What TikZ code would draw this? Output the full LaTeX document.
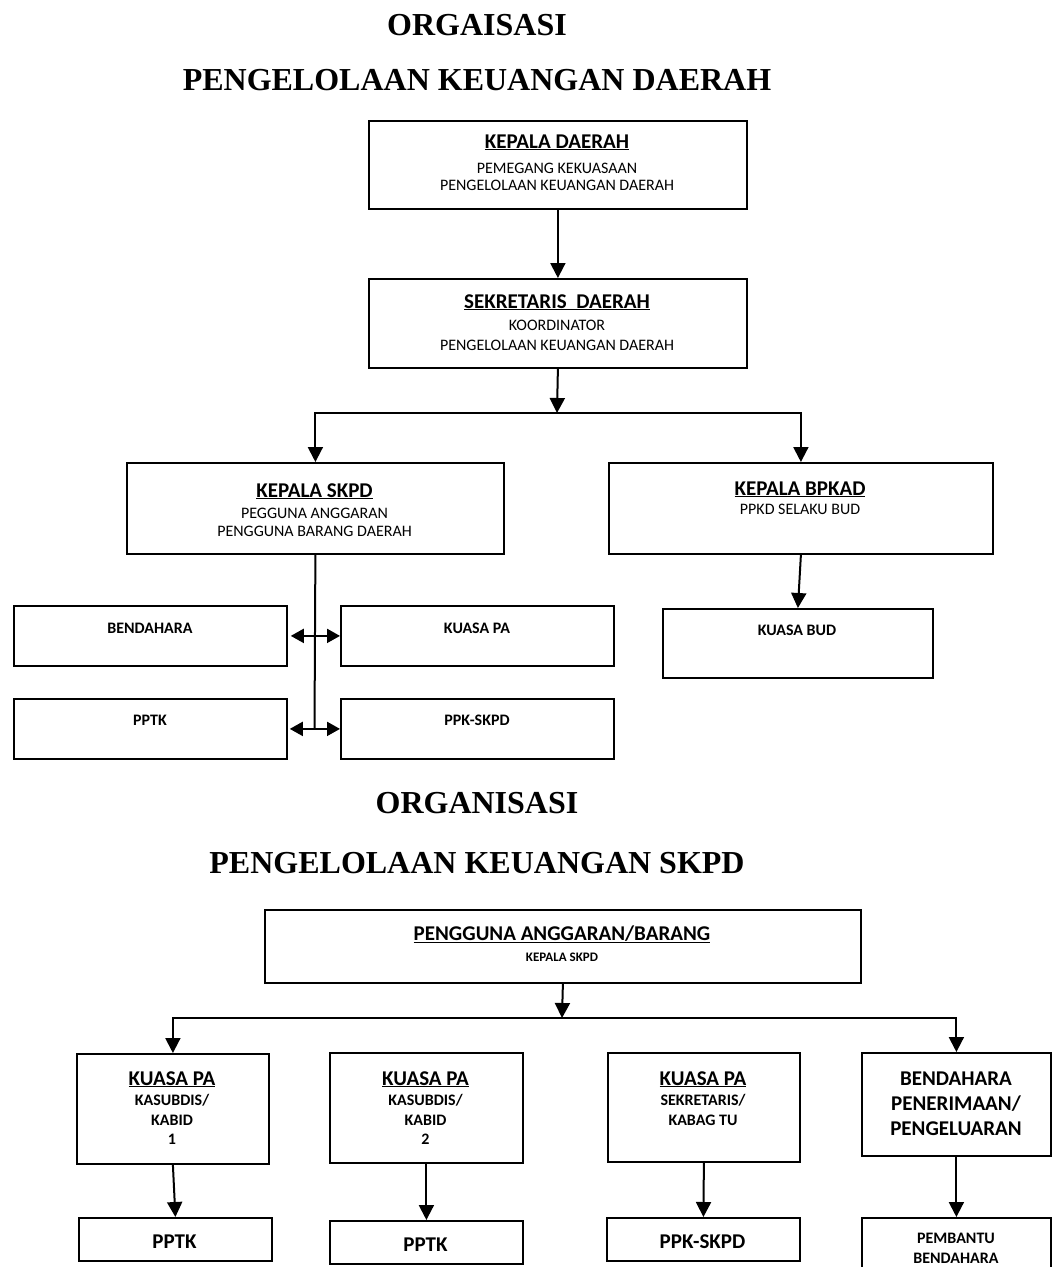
\documentclass[tikz,border=0pt]{standalone}
\usepackage{fontspec}
\setmainfont{Carlito}
\newfontfamily\ttlfont{Liberation Serif}
\usetikzlibrary{arrows.meta}
\newcommand\bx[5]{\node[box, minimum width={(#4-#2)*1pt}, minimum height={(#5-#3)*1pt}] (#1) at (#2,#3) {};}
\begin{document}
\begin{tikzpicture}[x=1pt,y=-1pt,
  box/.style={draw, line width=1.8pt, inner sep=0pt, anchor=north west},
  txt/.style={anchor=base, inner sep=0pt},
  ttl/.style={txt, font=\ttlfont\fontsize{32}{36}\selectfont\bfseries},
  bigb/.style={txt, font=\fontsize{21}{24}\selectfont\bfseries},
  reg/.style={txt, font=\fontsize{16}{18}\selectfont},
  smb/.style={txt, font=\fontsize{16}{18}\selectfont\bfseries},
  ln/.style={line width=2pt},
  arr/.style={line width=2pt, -{Triangle[length=15pt,width=15pt]}},
  darr/.style={line width=2pt, {Triangle[length=13pt,width=14pt]}-{Triangle[length=13pt,width=14pt]}}]
\useasboundingbox (0,0) rectangle (1052,1267);
\fill[white] (0,0) rectangle (1052,1267);

% titles
\node[ttl] (h1) at (477,35) {ORGAISASI};
\node[ttl] (h2) at (477,90) {PENGELOLAAN KEUANGAN DAERAH};
\node[ttl] (h3) at (477,813) {ORGANISASI};
\node[ttl] (h4) at (477,873) {PENGELOLAAN KEUANGAN SKPD};

% boxes, upper chart
\bx{kd}{368}{120}{746}{208}
\bx{sd}{368}{278}{746}{367}
\bx{ks}{126}{462}{503}{553}
\bx{bp}{608}{462}{992}{553}
\bx{kb}{662}{608}{932}{677}
\bx{bn}{13}{605}{286}{665}
\bx{kpa}{340}{605}{613}{665}
\bx{pt}{13}{698}{286}{758}
\bx{ppk}{340}{698}{613}{758}

% boxes, lower chart
\bx{pg}{264}{909}{860}{982}
\bx{ka}{76}{1053}{268}{1163}
\bx{kc}{329}{1052}{522}{1162}
\bx{ke}{607}{1052}{799}{1161}
\bx{bpp}{861}{1052}{1050}{1155}
\bx{pa}{78}{1217}{271}{1260}
\bx{pc}{329}{1220}{522}{1263}
\bx{pe}{606}{1217}{799}{1260}
\bx{pbb}{861}{1217}{1050}{1300}

% texts, upper chart
\node[bigb] (kd1) at (557,148) {\underline{KEPALA DAERAH}};
\node[reg] (kd2) at (557,173) {PEMEGANG KEKUASAAN};
\node[reg] (kd3) at (557,190) {PENGELOLAAN KEUANGAN DAERAH};
\node[bigb] (sd1) at (557,308) {\underline{SEKRETARIS\ \ DAERAH}};
\node[reg] (sd2) at (557,330) {KOORDINATOR};
\node[reg] (sd3) at (557,350) {PENGELOLAAN KEUANGAN DAERAH};
\node[bigb] (ks1) at (314.5,497) {\underline{KEPALA SKPD}};
\node[reg] (ks2) at (314.5,518) {PEGGUNA ANGGARAN};
\node[reg] (ks3) at (314.5,536) {PENGGUNA BARANG DAERAH};
\node[bigb] (bp1) at (800,495) {\underline{KEPALA BPKAD}};
\node[reg] (bp2) at (800,514) {PPKD SELAKU BUD};
\node[smb] (kb1) at (797,635) {KUASA BUD};
\node[smb] (bn1) at (150,633) {BENDAHARA};
\node[smb] (kpa1) at (477,633) {KUASA PA};
\node[smb] (pt1) at (150,725) {PPTK};
\node[smb] (ppk1) at (477,725) {PPK-SKPD};

% texts, lower chart
\node[bigb] (pg1) at (562,940) {\underline{PENGGUNA ANGGARAN/BARANG}};
\node[txt, font=\fontsize{13}{15}\selectfont\bfseries] (pg2) at (562,961) {KEPALA SKPD};
\node[bigb] (ka1) at (172,1085) {\underline{KUASA PA}};
\node[smb] (ka2) at (172,1105) {KASUBDIS/};
\node[smb] (ka3) at (172,1125) {KABID};
\node[smb] (ka4) at (172,1144) {1};
\node[bigb] (kc1) at (425.5,1085) {\underline{KUASA PA}};
\node[smb] (kc2) at (425.5,1105) {KASUBDIS/};
\node[smb] (kc3) at (425.5,1125) {KABID};
\node[smb] (kc4) at (425.5,1144) {2};
\node[bigb] (ke1) at (703,1085) {\underline{KUASA PA}};
\node[smb] (ke2) at (703,1105) {SEKRETARIS/};
\node[smb] (ke3) at (703,1125) {KABAG TU};
\node[bigb] (bpp1) at (956,1085) {BENDAHARA};
\node[bigb] (bpp2) at (956,1110) {PENERIMAAN/};
\node[bigb] (bpp3) at (956,1135) {PENGELUARAN};
\node[bigb] (pa1) at (174.5,1248) {PPTK};
\node[bigb] (pc1) at (425.5,1251) {PPTK};
\node[bigb] (pe1) at (702.5,1248) {PPK-SKPD};
\node[smb] (pbb1) at (956,1243) {PEMBANTU};
\node[smb] (pbb2) at (956,1263) {BENDAHARA};

% connectors, upper chart
\coordinate (j1) at (557,413);
\draw[arr] (kd.south) -- (sd.north);
\draw[arr] (sd.south) -- (j1);
\draw[arr] (j1) -| (ks.north);
\draw[arr] (j1) -| (bp.north);
\draw[arr] (bp.south) -- (kb.north);
\coordinate (v2) at (314.5,728);
\draw[ln] (ks.south) -- (v2);
\draw[darr, shorten <=3pt] (bn.east) -- (kpa.west);
\draw[darr, shorten <=2pt] (pt.east) -- (ppk.west);

% connectors, lower chart
\coordinate (j2) at (562,1018);
\draw[arr] (pg.south) -- (j2);
\draw[arr] (j2) -| (ka.north);
\draw[arr] (j2) -| (bpp.north);
\draw[arr] (ka.south) -- (pa.north);
\draw[arr] (kc.south) -- (pc.north);
\draw[arr] (ke.south) -- (pe.north);
\draw[arr] (bpp.south) -- (pbb.north);
\end{tikzpicture}
\end{document}
